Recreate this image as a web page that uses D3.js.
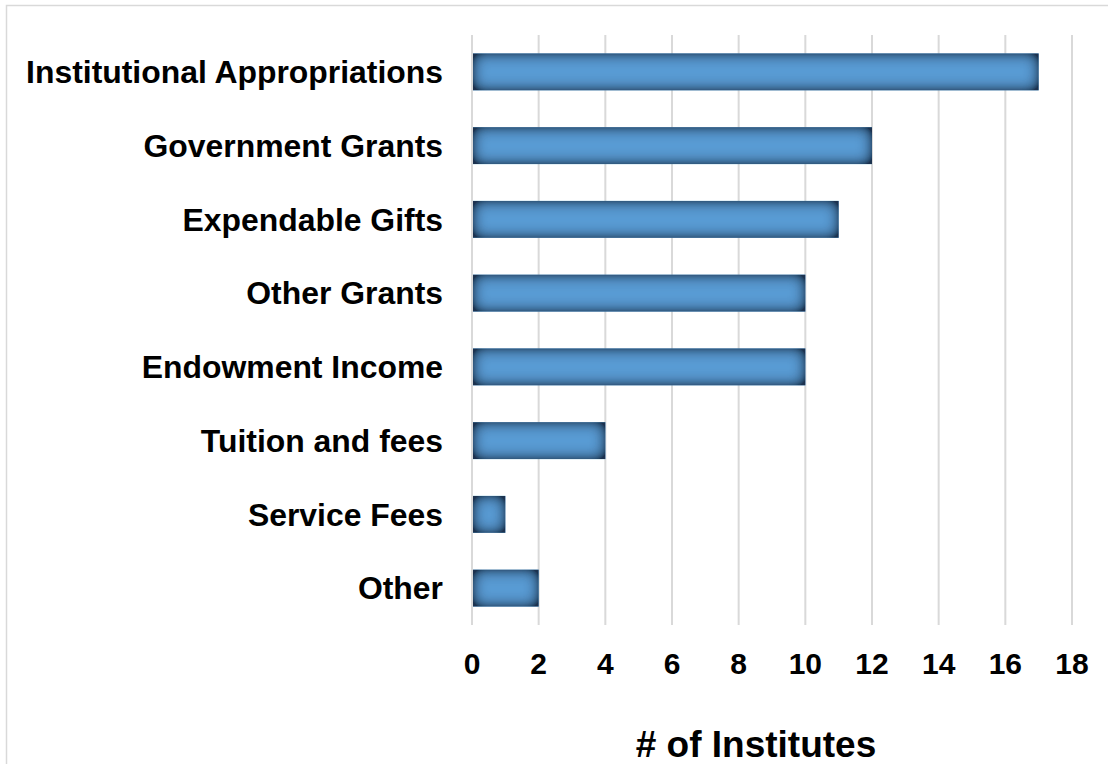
<!DOCTYPE html>
<html><head><meta charset="utf-8">
<script src="https://cdn.jsdelivr.net/npm/d3@7"></script>
<style>html,body{margin:0;padding:0;background:#fff;overflow:hidden}</style>
</head><body>
<svg id="c" width="1108" height="764"></svg>
<script>
const categories = ["Institutional Appropriations","Government Grants","Expendable Gifts","Other Grants","Endowment Income","Tuition and fees","Service Fees","Other"];
const values = [17,12,11,10,10,4,1,2];
const ticks = [0,2,4,6,8,10,12,14,16,18];
const axisTitle = "# of Institutes";

const svg = d3.select("#c");
const font = "Arial, 'Liberation Sans', sans-serif";
const defs = svg.append("defs");
const f = defs.append("filter").attr("id","inner").attr("filterUnits","userSpaceOnUse")
  .attr("x",0).attr("y",0).attr("width",1108).attr("height",764);
f.append("feComponentTransfer").attr("in","SourceAlpha").attr("result","inv")
  .append("feFuncA").attr("type","table").attr("tableValues","1 0");
f.append("feGaussianBlur").attr("in","inv").attr("stdDeviation",7.5).attr("result","blur0");
f.append("feComponentTransfer").attr("in","blur0").attr("result","blur")
  .append("feFuncA").attr("type","linear").attr("slope",1.6).attr("intercept",0);
f.append("feFlood").attr("flood-color","#1b3350").attr("flood-opacity",1).attr("result","col");
f.append("feComposite").attr("in","col").attr("in2","blur").attr("operator","in").attr("result","sh");
f.append("feComposite").attr("in","sh").attr("in2","SourceAlpha").attr("operator","in").attr("result","shin");
const m = f.append("feMerge");
m.append("feMergeNode").attr("in","SourceGraphic");
m.append("feMergeNode").attr("in","shin");

svg.append("rect").attr("x",6.5).attr("y",5.5).attr("width",1200).attr("height",900)
  .attr("fill","none").attr("stroke","#d9d9d9").attr("stroke-width",1.5);

const x = d3.scaleLinear().domain([0,18]).range([472,1072]);
const y = d3.scaleBand().domain(categories).range([35,625]).paddingInner(0.5).paddingOuter(0.25);

svg.append("g").selectAll("line").data(ticks).join("line")
  .attr("x1",d=>x(d)).attr("x2",d=>x(d)).attr("y1",35).attr("y2",625)
  .attr("stroke","#d9d9d9").attr("stroke-width",2);

const bars = svg.append("g").attr("filter","url(#inner)");
bars.selectAll("rect").data(categories).join("rect")
  .attr("x",x(0)+1).attr("y",d=>y(d)).attr("height",y.bandwidth())
  .attr("width",(d,i)=>x(values[i])-x(0)-1)
  .attr("fill","#5a9bd4");

svg.append("g").selectAll("text").data(categories).join("text")
  .attr("x",443).attr("y",d=>y(d)+y.bandwidth()/2).attr("dy","0.35em")
  .attr("text-anchor","end").attr("font-family",font).attr("font-weight","bold")
  .attr("font-size",31.9).attr("fill","#000").text(d=>d);

svg.append("g").selectAll("text").data(ticks).join("text")
  .attr("x",d=>x(d)).attr("y",674).attr("text-anchor","middle")
  .attr("font-family",font).attr("font-weight","bold").attr("font-size",30).attr("fill","#000").text(d=>d);

svg.append("text").attr("x",756).attr("y",757).attr("text-anchor","middle")
  .attr("font-family",font).attr("font-weight","bold").attr("font-size",37).attr("fill","#000").text(axisTitle);
</script>
</body></html>
